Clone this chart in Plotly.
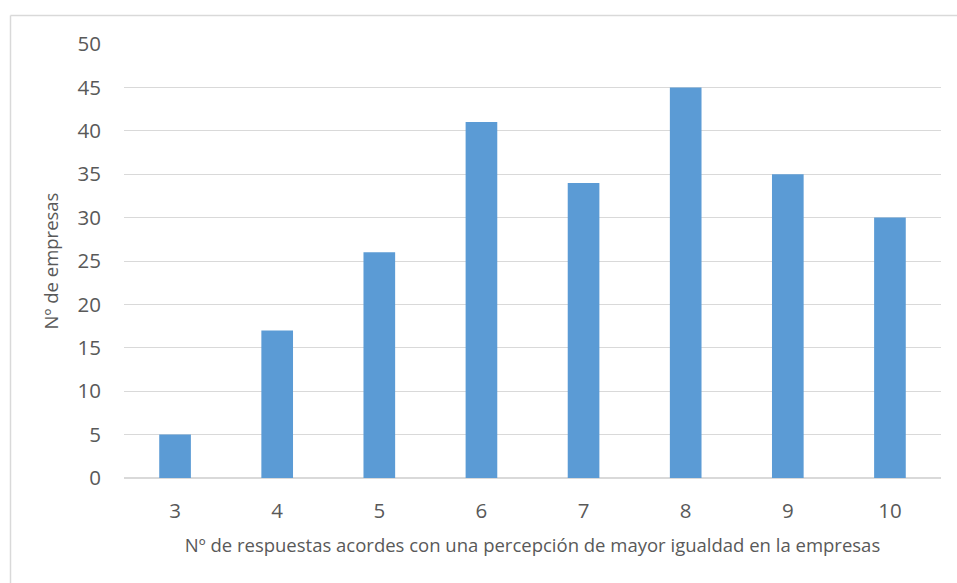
import plotly.graph_objects as go

# Survey results: number of companies by count of answers
categories = ["3", "4", "5", "6", "7", "8", "9", "10"]
empresas = [5, 17, 26, 41, 34, 45, 35, 30]
y_ticks = [0, 5, 10, 15, 20, 25, 30, 35, 40, 45, 50]

BAR = "#5B9BD5"
GRID = "#D9D9D9"
TXT = "#595959"
FONT = "Open Sans, Liberation Sans, sans-serif"

W, H = 957, 583
ML, MR, MT, MB = 124, 16, 44, 105
PW, PH = W - ML - MR, H - MT - MB

fig = go.Figure(
    go.Bar(x=categories, y=empresas, marker_color=BAR, width=0.31,
           marker_line_width=0)
)

# chart frame (left and top edges)
fx = (10.5 - ML) / PW
fy = (H - MB - 15.5) / PH
fig.add_shape(type="line", xref="paper", yref="paper", x0=fx, x1=fx, y0=-1, y1=fy,
              line=dict(color=GRID, width=1.5))
fig.add_shape(type="line", xref="paper", yref="paper", x0=fx, x1=2, y0=fy, y1=fy,
              line=dict(color=GRID, width=1.5))

fig.update_layout(
    width=W, height=H,
    margin=dict(l=ML, r=MR, t=MT, b=MB),
    paper_bgcolor="white", plot_bgcolor="white",
    font=dict(family=FONT, color=TXT),
    showlegend=False,
    xaxis=dict(
        type="category",
        showgrid=False, showline=False, zeroline=False,
        tickfont=dict(size=20.5, color=TXT),
        ticks="", ticklabelstandoff=18,
        title=dict(text="Nº de respuestas acordes con una percepción de mayor igualdad en la empresas",
                   font=dict(size=18.5, color=TXT), standoff=16),
    ),
    yaxis=dict(
        range=[0, 50], tickvals=y_ticks,
        showgrid=True, gridcolor=GRID, gridwidth=1,
        zeroline=True, zerolinecolor=GRID, zerolinewidth=2,
        showline=False,
        tickfont=dict(size=20.5, color=TXT),
        ticks="", ticklabelstandoff=22,
        title=dict(text="Nº de empresas", font=dict(size=18.5, color=TXT), standoff=14),
    ),
)

fig.write_html("out.html")
